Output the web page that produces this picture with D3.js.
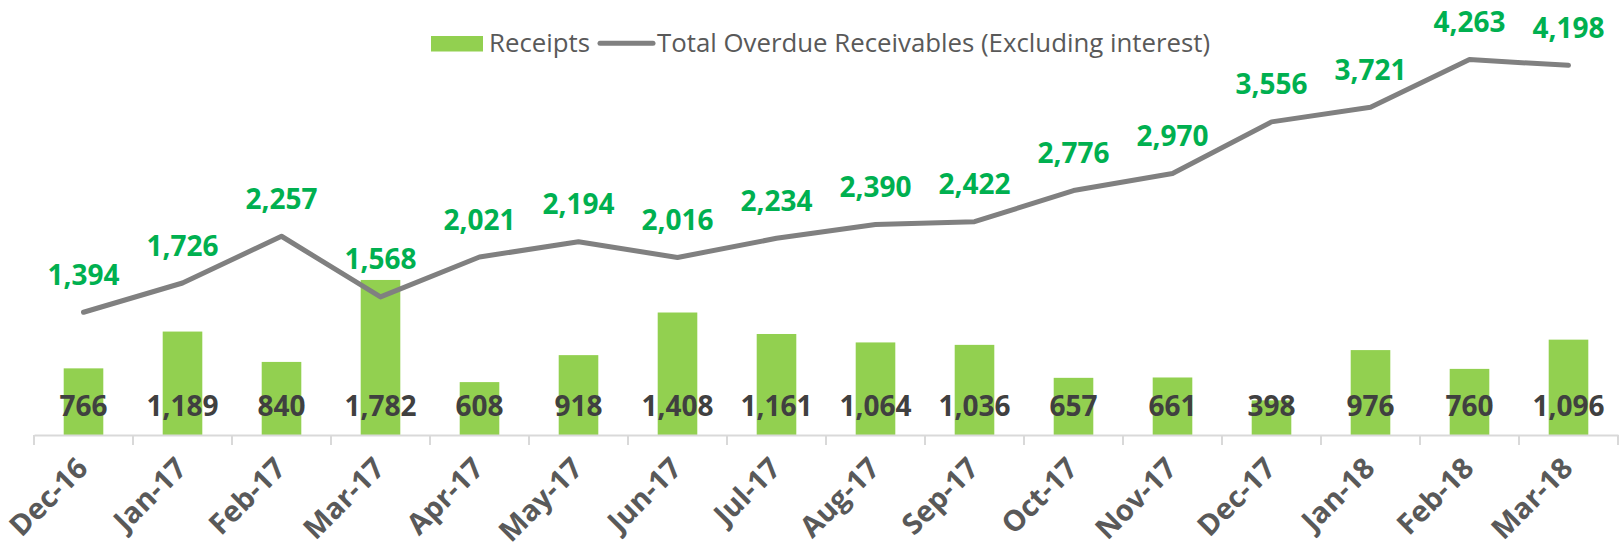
<!DOCTYPE html>
<html>
<head>
<meta charset="utf-8">
<script src="https://cdn.jsdelivr.net/npm/d3@7"></script>
<style>
  html, body { margin: 0; padding: 0; background: #ffffff; }
  svg { display: block; }
</style>
</head>
<body>
<svg id="chart" width="1624" height="549"></svg>
<script>
const months = ["Dec-16","Jan-17","Feb-17","Mar-17","Apr-17","May-17","Jun-17","Jul-17","Aug-17","Sep-17","Oct-17","Nov-17","Dec-17","Jan-18","Feb-18","Mar-18"];
const receipts = [766,1189,840,1782,608,918,1408,1161,1064,1036,657,661,398,976,760,1096];
const overdue = [1394,1726,2257,1568,2021,2194,2016,2234,2390,2422,2776,2970,3556,3721,4263,4198];
const seriesNames = ["Receipts", "Total Overdue Receivables (Excluding interest)"];

const svg = d3.select("#chart");
const FONT = "'Open Sans', 'Liberation Sans', sans-serif";
const fmt = d3.format(",");

const axisY = 435;
const x = d3.scaleBand().domain(months).range([34, 1618]).paddingInner(0.6).paddingOuter(0.3);
const yBar = d3.scaleLinear().domain([0, 5000]).range([axisY, 0]);
const yLine = d3.scaleLinear().domain([0, 4940]).range([axisY, 0]);
const cx = d => x(d) + x.bandwidth() / 2;

// bars
svg.append("g").selectAll("rect").data(months).join("rect")
  .attr("x", d => x(d))
  .attr("width", x.bandwidth())
  .attr("y", (d, i) => yBar(receipts[i]))
  .attr("height", (d, i) => axisY - yBar(receipts[i]))
  .attr("fill", "#92D050");

// x axis
const xAxis = d3.axisBottom(x).tickSize(0).tickFormat("");
const gx = svg.append("g").attr("transform", `translate(0,${axisY})`).call(xAxis);
gx.select(".domain").attr("stroke", "#D9D9D9").attr("stroke-width", 2);
// category boundary tick marks
const bounds = months.map(m => x(m) - x.step() * x.paddingInner() / 2).concat([x.range()[1]]);
gx.selectAll("line.bt").data(bounds).join("line").attr("class", "bt")
  .attr("x1", d => d).attr("x2", d => d).attr("y1", 0).attr("y2", 10)
  .attr("stroke", "#D9D9D9").attr("stroke-width", 2);

// rotated category labels
svg.append("g").selectAll("text").data(months).join("text")
  .attr("transform", d => `translate(${cx(d) + 6},470) rotate(-45)`)
  .attr("text-anchor", "end")
  .attr("font-family", FONT).attr("font-weight", "bold").attr("font-size", 29)
  .attr("fill", "#595959")
  .text(d => d);

// line
const line = d3.line().x((d, i) => cx(months[i])).y(d => yLine(d));
svg.append("path").datum(overdue)
  .attr("d", line)
  .attr("fill", "none")
  .attr("stroke", "#808080")
  .attr("stroke-width", 5)
  .attr("stroke-linejoin", "round")
  .attr("stroke-linecap", "round");

// bar labels (inside base)
svg.append("g").selectAll("text").data(months).join("text")
  .attr("x", d => cx(d))
  .attr("y", 415.5)
  .attr("text-anchor", "middle")
  .attr("font-family", FONT).attr("font-weight", "bold").attr("font-size", 28)
  .attr("fill", "#404040")
  .text((d, i) => fmt(receipts[i]));

// line labels (above)
svg.append("g").selectAll("text").data(months).join("text")
  .attr("x", d => cx(d))
  .attr("y", (d, i) => yLine(overdue[i]) - 27.5)
  .attr("text-anchor", "middle")
  .attr("font-family", FONT).attr("font-weight", "bold").attr("font-size", 28)
  .attr("fill", "#00B050")
  .text((d, i) => fmt(overdue[i]));

// legend
const lg = svg.append("g");
lg.append("rect").attr("x", 431).attr("y", 36).attr("width", 52).attr("height", 15.5).attr("fill", "#92D050");
lg.append("text").attr("x", 489).attr("y", 51.5)
  .attr("font-family", FONT).attr("font-size", 25.8).attr("fill", "#595959").text(seriesNames[0]);
lg.append("line").attr("x1", 600).attr("x2", 653).attr("y1", 43.3).attr("y2", 43.3)
  .attr("stroke", "#808080").attr("stroke-width", 5).attr("stroke-linecap", "round");
lg.append("text").attr("x", 657).attr("y", 51.5)
  .attr("font-family", FONT).attr("font-size", 25.8).attr("fill", "#595959").text(seriesNames[1]);
</script>
</body>
</html>
